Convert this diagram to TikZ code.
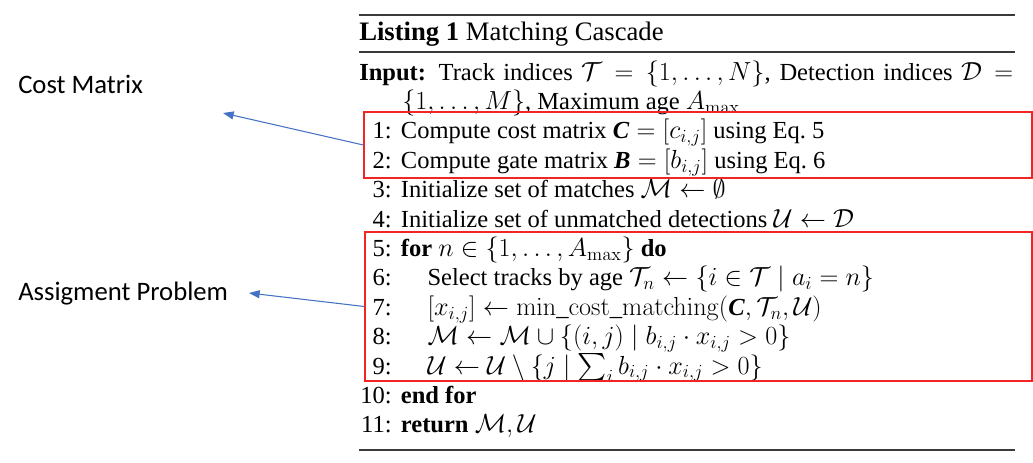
\RequirePackage{fix-cm}
\documentclass[tikz,border=0pt]{standalone}
\usepackage{amsmath}
\usepackage[no-math]{fontspec}
\setmainfont{Liberation Serif}
\newfontfamily\notefont{Carlito}
\usetikzlibrary{arrows.meta}

\definecolor{arrowblue}{HTML}{4472C4}
\definecolor{boxred}{HTML}{F22525}
\definecolor{rulegray}{HTML}{3A3A3A}

\DeclareMathSizes{18.4}{19.6}{13.9}{10.5}
\newcommand{\lnum}[1]{\makebox[22pt][r]{#1}\hspace{7pt}}
\newcommand{\bfit}[1]{\mbox{\textbf{\textit{#1}}}}

\begin{document}
\begin{tikzpicture}[x=0.75pt,y=-0.75pt]

		% Define styles
		\tikzstyle{codeline} = [anchor=base west, inner sep=0pt,
		font=\fontsize{18.4}{22}\selectfont]
		\tikzstyle{sidenote} = [anchor=base west, inner sep=0pt,
		font=\notefont\fontsize{20}{24}\selectfont]
		\tikzstyle{redbox} = [rectangle, draw=boxred, line width=1pt, inner sep=0pt]
		\tikzstyle{rule} = [draw=rulegray]
		\tikzstyle{arrow} = [draw=arrowblue, line width=0.8pt,
		-{Triangle[length=8pt,width=6pt]}]

		\useasboundingbox (0,0) rectangle (1033,462);

		% Rules
		\draw [rule, line width=2.2pt] (359,15) -- (1015,15);
		\draw [rule, line width=1.6pt] (359,52) -- (1015,52);
		\draw [rule, line width=2.2pt] (359,450) -- (1015,450);

		% Nodes
		\node (caption) [codeline, font=\fontsize{20}{24}\selectfont] at (359,40)
			{\textbf{Listing 1} Matching Cascade};

		\node (input) [codeline] at (359,80) {\hbox to 490.5pt{\textbf{Input:}
			Track indices $\mathcal{T} = \{1,\dots,N\}$, Detection indices $\mathcal{D} =$}};
		\node (inputcont) [codeline] at (402,109.4) {$\{1,\dots,M\}$, Maximum age $A_{\max}$};

		\node (l1) [codeline] at (362,138.8) {\lnum{1:}Compute cost matrix $\bfit{C} = [c_{i,j}]$ using Eq.~5};
		\node (l2) [codeline] at (362,168.2) {\lnum{2:}Compute gate matrix $\bfit{B} = [b_{i,j}]$ using Eq.~6};
		\node (l3) [codeline] at (362,197.6) {\lnum{3:}Initialize set of matches $\mathcal{M} \leftarrow \emptyset$};
		\node (l4) [codeline] at (362,227) {\lnum{4:}Initialize set of unmatched detections $\mathcal{U} \leftarrow \mathcal{D}$};
		\node (l5) [codeline] at (362,256.4) {\lnum{5:}\textbf{for} $n \in \{1,\dots,A_{\max}\}$ \textbf{do}};
		\node (l6) [codeline] at (362,285.8) {\lnum{6:}\hspace{20pt}Select tracks by age
			$\mathcal{T}_n \leftarrow \{i \in \mathcal{T} \mid a_i = n\}$};
		\node (l7) [codeline] at (362,315.2) {\lnum{7:}\hspace{20pt}$[x_{i,j}] \leftarrow
			\mathrm{min\_cost\_matching}(\bfit{C}, \mathcal{T}_n, \mathcal{U})$};
		\node (l8) [codeline] at (362,344.6) {\lnum{8:}\hspace{20pt}$\mathcal{M} \leftarrow
			\mathcal{M} \cup \{(i,j) \mid b_{i,j} \cdot x_{i,j} > 0\}$};
		\node (l9) [codeline] at (362,374) {\lnum{9:}\hspace{20pt}$\mathcal{U} \leftarrow
			\mathcal{U} \setminus \{j \mid \sum_i b_{i,j} \cdot x_{i,j} > 0\}$};
		\node (l10) [codeline] at (362,403.4) {\lnum{10:}\textbf{end for}};
		\node (l11) [codeline] at (362,432.8) {\lnum{11:}\textbf{return} $\mathcal{M},\mathcal{U}$};

		\node (costbox) [redbox, minimum width=501pt, minimum height=49.5pt] at (698,145) {};
		\node (assignbox) [redbox, minimum width=500.25pt, minimum height=111.75pt] at (698.5,306.5) {};

		\node (costlbl) [sidenote] at (18,93) {Cost Matrix};
		\node (assignlbl) [sidenote] at (18,300) {Assigment Problem};

		\coordinate (costtip) at (223,113);
		\coordinate (assigntip) at (249,293);

		% Arrows
		\draw [arrow] (costbox.west) -- (costtip);
		\draw [arrow] (assignbox.west) -- (assigntip);
	\end{tikzpicture}
\end{document}
